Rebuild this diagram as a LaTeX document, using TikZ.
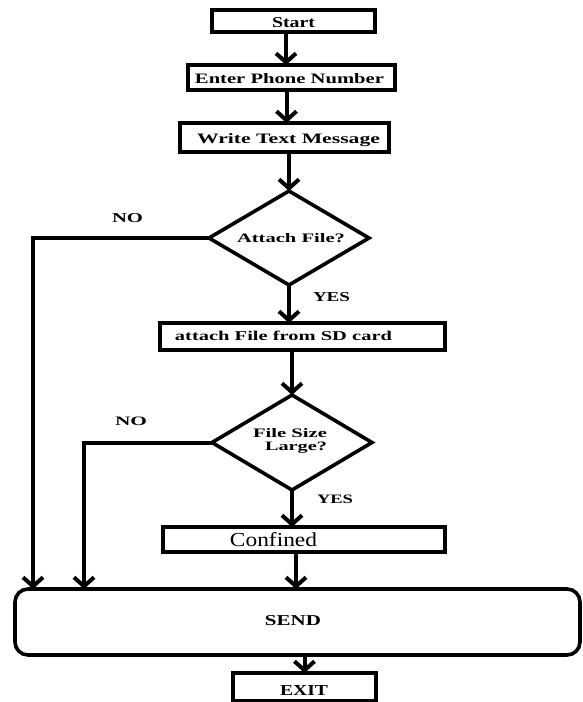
\documentclass[tikz,border=0pt]{standalone}
\usepackage{fontspec}
\usepackage{graphicx}
\setmainfont{Liberation Serif}
\usetikzlibrary{shapes.geometric,arrows.meta}
\begin{document}
\begin{tikzpicture}[x=1pt,y=-1pt,
  box/.style={draw, rectangle, line width=3.6pt, inner sep=0pt, outer sep=0pt},
  dia/.style={draw, diamond, line width=3.6pt, inner sep=0pt, outer sep=0pt,
              minimum width=160pt, minimum height=94pt},
  arr/.style={line width=4pt, -{Straight Barb[length=9pt,width=20pt]}},
  lbl/.style={inner sep=0pt, outer sep=0pt, anchor=base, font=\bfseries},
  plain/.style={inner sep=0pt, outer sep=0pt, anchor=base, font=\normalfont}]
\useasboundingbox (0,0) rectangle (583,702);
% boxes
\node[box, minimum width=163pt, minimum height=22pt] (start) at (293.5,21) {};
\node[box, minimum width=207pt, minimum height=25pt] (enter) at (291.5,77.5) {};
\node[box, minimum width=209pt, minimum height=29pt] (write) at (284.5,137.5) {};
\node[dia] (d1) at (289,238) {};
\node[box, minimum width=285pt, minimum height=27pt] (attach) at (302.5,336.5) {};
\node[dia, minimum height=95pt] (d2) at (292,442.5) {};
\node[box, minimum width=282pt, minimum height=25pt] (confined) at (304,539.5) {};
\node[box, rounded corners=13pt, minimum width=565pt, minimum height=66pt] (send) at (297.5,622) {};
\node[box, minimum width=143pt, minimum height=28pt] (exit) at (304.5,687) {};
% texts
\node[lbl] (tstart) at (293.5,27) {\resizebox{43pt}{10pt}{Start}};
\node[lbl] (tenter) at (289.5,83) {\resizebox{189pt}{10pt}{Enter Phone Number}};
\node[lbl] (twrite) at (288.5,143) {\resizebox{183pt}{10pt}{Write Text Message}};
\node[lbl] (td1) at (291,242) {\resizebox{108pt}{9pt}{Attach File?}};
\node[lbl] (no1) at (127.5,222) {\resizebox{31pt}{9pt}{NO}};
\node[lbl] (yes1) at (331.5,301) {\resizebox{37pt}{9pt}{YES}};
\node[lbl] (tattach) at (283.5,340) {\resizebox{217pt}{9.5pt}{attach File from SD card}};
\node[lbl] (td2a) at (290,437) {\resizebox{74pt}{9pt}{File Size}};
\node[lbl] (td2b) at (296,450) {\resizebox{62pt}{8.5pt}{Large?}};
\node[lbl] (no2) at (131,425) {\resizebox{32pt}{8.5pt}{NO}};
\node[lbl] (yes2) at (335,503) {\resizebox{36pt}{8.5pt}{YES}};
\node[plain] (tconf) at (273.5,546) {\resizebox{87pt}{14pt}{Confined}};
\node[lbl] (tsend) at (293,625) {\resizebox{56pt}{10pt}{SEND}};
\node[lbl] (texit) at (304,695) {\resizebox{48pt}{10pt}{EXIT}};
% helper coordinates for the left-hand return lines
\coordinate (L1) at (33,0);
\coordinate (L2) at (84,0);
% connectors
\draw[arr] ([xshift=-7.5pt]start.south) -- ([xshift=-7.5pt]start.south |- enter.north);
\draw[arr] ([xshift=-5pt]enter.south) -- ([xshift=-5pt]enter.south |- write.north);
\draw[arr] (write.south -| d1.north) -- (d1.north);
\draw[arr] (d1.south) -- (d1.south |- attach.north);
\draw[arr] (attach.south -| d2.north) -- (d2.north);
\draw[arr] (d2.south) -- (d2.south |- confined.north);
\draw[arr] ([xshift=-8pt]confined.south) -- ([xshift=-8pt]confined.south |- send.north);
\draw[arr] (send.south -| exit.north) -- (exit.north);
\draw[arr] (d1.west) -| (L1 |- send.north);
\draw[arr] (d2.west) -| (L2 |- send.north);
\end{tikzpicture}
\end{document}
